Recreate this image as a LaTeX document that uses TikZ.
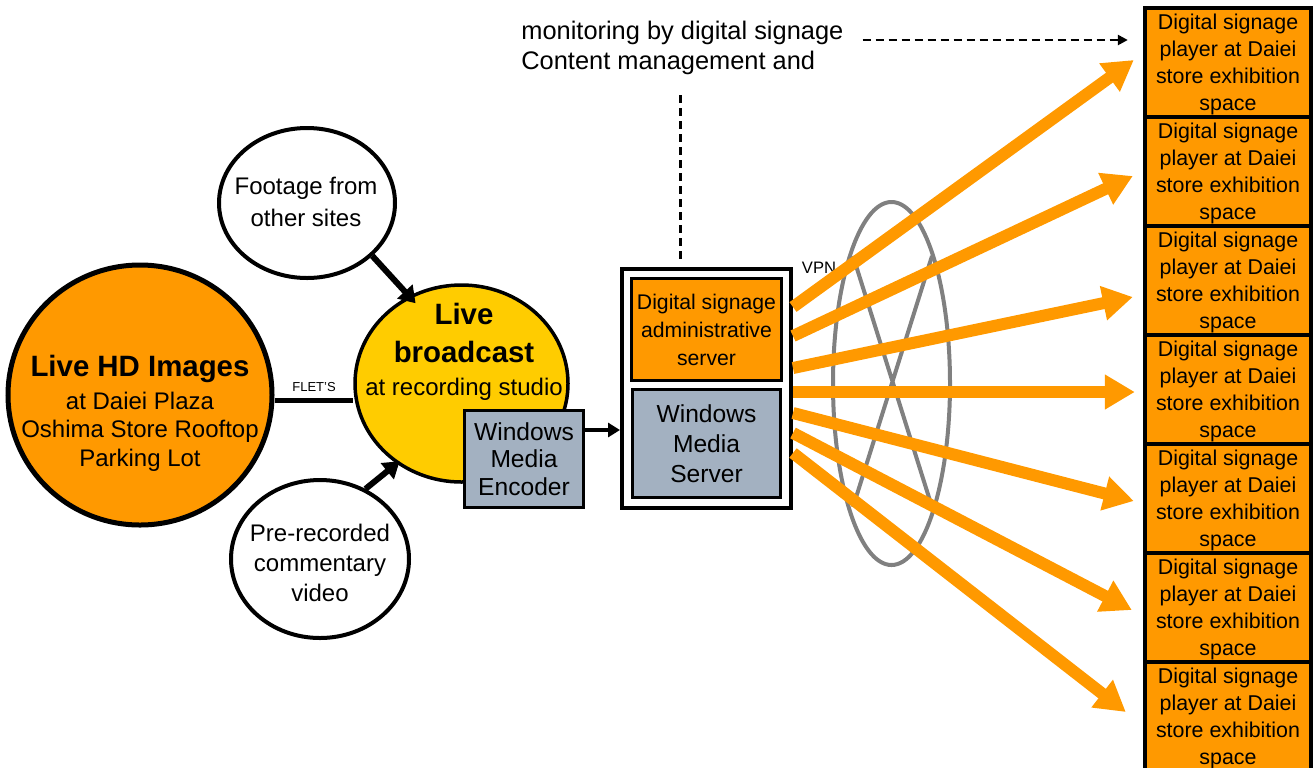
\documentclass[tikz,border=0pt]{standalone}
\usepackage{fontspec}
\setmainfont{Liberation Sans}
\usetikzlibrary{shapes,arrows.meta,positioning,calc}

\definecolor{signorange}{RGB}{255,153,0}
\definecolor{studioyellow}{RGB}{255,204,0}
\definecolor{mediagray}{RGB}{163,177,193}
\definecolor{vpngray}{RGB}{128,128,128}

\newcommand{\bigbold}[1]{{\fontsize{14.7}{16}\selectfont\bfseries #1}}

\begin{document}
\begin{tikzpicture}[x=0.5pt, y=-0.5pt,
  site/.style={draw, ellipse, line width=2pt, fill=white, inner sep=0pt},
  sitetext/.style={align=center, font=\fontsize{12}{14.3}\selectfont},
  mediabox/.style={draw, rectangle, line width=1.5pt, fill=mediagray, inner sep=0pt, align=center, font=\fontsize{12.3}{13.8}\selectfont},
  player/.style={draw, rectangle, line width=2.2pt, fill=signorange, minimum width=83pt, minimum height=54.5pt, inner sep=0pt, align=center, text depth=0pt, font=\fontsize{10.7}{13.5}\selectfont},
  feed/.style={signorange, line width=6pt, -{Triangle[length=15pt,width=16.5pt]}},
  push/.style={line width=3pt, -{Triangle[length=8pt,width=10pt]}},
  mgmtline/.style={line width=1.2pt, dash pattern=on 4pt off 2.5pt}
]
\useasboundingbox (0,0) rectangle (1316,767);

% sites
\node[site, fill=signorange, line width=2.5pt, minimum width=132pt, minimum height=130pt] (hd) at (140,395) {};
\node[sitetext] (hdtext) at (140,413) {\bigbold{Live HD Images}\\[2.2pt] at Daiei Plaza\\ Oshima Store Rooftop\\ Parking Lot};

\node[site, fill=studioyellow, line width=1.75pt, minimum width=106.5pt, minimum height=98.5pt] (live) at (461.5,383.5) {};
\node[sitetext] (livetext) at (464,352) {\bigbold{Live}\\[5pt] \bigbold{broadcast}\\[2.2pt] at recording studio};

\node[site, minimum width=88pt, minimum height=75pt] (footage) at (307,203) {};
\node[sitetext, font=\fontsize{12}{16}\selectfont] (footagetext) at (306,202) {Footage from\\ other sites};

\node[site, minimum width=89pt, minimum height=79pt] (prerec) at (320,559) {};
\node[sitetext, font=\fontsize{12}{15}\selectfont] (prerectext) at (320,563) {Pre-recorded\\ commentary\\ video};

\node[mediabox, minimum width=59.5pt, minimum height=48.5pt] (enc) at (524,459) {Windows\\ Media\\ Encoder};

% server
\node[draw, line width=2pt, fill=white, minimum width=84.5pt, minimum height=119.5pt, inner sep=0pt] (srv) at (706.5,388.5) {};
\node[draw, line width=1.5pt, fill=signorange, minimum width=75pt, minimum height=51pt, inner sep=0pt, align=center, font=\fontsize{10.6}{14}\selectfont] (admin) at (706.5,329.5) {Digital signage\\ administrative\\ server};
\node[mediabox, minimum width=74pt, minimum height=54pt, font=\fontsize{12.3}{15}\selectfont] (wms) at (706.5,443.5) {Windows\\ Media\\ Server};

% players
\node[player] (p1) at (1228,62.5) {Digital signage\\ player at Daiei\\ store exhibition\\ space};
\node[player] (p2) at (1228,171.5) {Digital signage\\ player at Daiei\\ store exhibition\\ space};
\node[player] (p3) at (1228,280.5) {Digital signage\\ player at Daiei\\ store exhibition\\ space};
\node[player] (p4) at (1228,389.5) {Digital signage\\ player at Daiei\\ store exhibition\\ space};
\node[player] (p5) at (1228,498.5) {Digital signage\\ player at Daiei\\ store exhibition\\ space};
\node[player] (p6) at (1228,607.5) {Digital signage\\ player at Daiei\\ store exhibition\\ space};
\node[player] (p7) at (1228,716.5) {Digital signage\\ player at Daiei\\ store exhibition\\ space};

% labels
\node[anchor=west, align=left, inner sep=0pt, font=\fontsize{12.7}{15}\selectfont] (mgmt) at (521,48) {monitoring by digital signage\\ Content management and};
\node[font=\fontsize{6.5}{7}\selectfont] (flets) at (314,387) {FLET'S};
\node[font=\fontsize{8.3}{10}\selectfont] (vpn) at (819,268) {VPN};

% vpn ring
\draw[vpngray, line width=2pt] (891.5,383.5) ellipse [x radius=58.5, y radius=181.5];
\draw[vpngray, line width=2pt] (853,256) -- (932,507) (932,256) -- (853,507);

% links
\draw[line width=2.5pt] ($(hd.east)+(0,5)$) coordinate (f1) -- (f1 -| live.west);
\draw[push, shorten >=-5pt] (footage.-39) -- (live.121);
\draw[push, shorten >=-2pt] (prerec.57) -- (live.-129);
\draw[line width=2pt, -{Triangle[length=6pt,width=7pt]}] ($(enc.north east)!0.21!(enc.south east)$) coordinate (e1) -- (e1 -| srv.west);
\draw[mgmtline] ($(srv.north)+(-26,-172)$) -- ($(srv.north)+(-26,-5)$);
\draw[mgmtline, -{Triangle[length=5pt,width=5pt]}] ($(mgmt.east)+(19,-8)$) -- ($(p1.west)+(-15,-22.5)$);

% feeds
\draw[feed] ($(srv.east)+(0,-81.5)$) -- ($(p1.west)+(-9,-2.5)$);
\draw[feed] ($(srv.east)+(0,-52.5)$) -- ($(p2.west)+(-10,4.5)$);
\draw[feed] ($(srv.east)+(0,-20.5)$) -- ($(p3.west)+(-10,16.5)$);
\draw[feed] ($(srv.east)+(0,3.5)$) -- ($(p4.west)+(-8,2.5)$);
\draw[feed] ($(srv.east)+(0,24.5)$) -- ($(p5.west)+(-9,2.5)$);
\draw[feed] ($(srv.east)+(0,44.5)$) -- ($(p6.west)+(-11,2.5)$);
\draw[feed] ($(srv.east)+(0,64.5)$) -- ($(p7.west)+(-17,-4.5)$);
\end{tikzpicture}
\end{document}
